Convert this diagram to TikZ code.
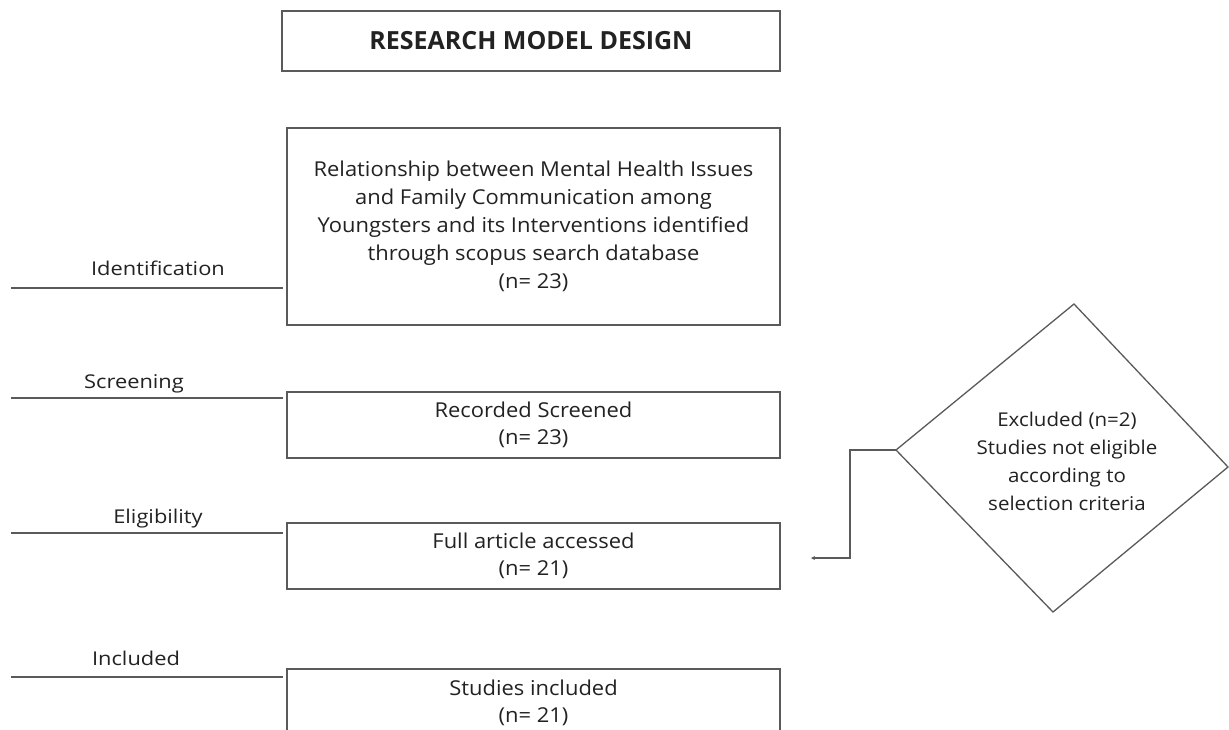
\documentclass[tikz,border=0pt]{standalone}
\usepackage{fontspec}
\usetikzlibrary{arrows.meta}
\setmainfont{Open Sans}
\newfontfamily\widefont[FakeStretch=1.07]{Open Sans}
\newfontfamily\lblfont[FakeStretch=1.15]{Open Sans}
\newfontfamily\dmdfont[FakeStretch=1.08]{Open Sans}
\definecolor{linegray}{HTML}{5A5A5A}
\definecolor{txt}{HTML}{222222}
\begin{document}
\begin{tikzpicture}[x=1pt,y=-1pt,
  box/.style={draw=linegray, line width=1.3pt, rectangle, inner sep=0pt, align=center,
    text=txt, font=\widefont\fontsize{20.5}{28}\selectfont},
  smallbox/.style={box, minimum width=493pt, font=\widefont\fontsize{20.5}{27.5}\selectfont},
  lbl/.style={text=txt, font=\lblfont\fontsize{19}{22}\selectfont, inner sep=0pt},
  rule/.style={draw=linegray, line width=1.3pt},
  conn/.style={draw=linegray, line width=1.3pt, -{Stealth[length=4pt,width=4pt]}}]
\useasboundingbox[fill=white] (0,0) rectangle (1229,729);
% title
\node[box, minimum width=498pt, minimum height=60pt, font=\fontsize{25}{28}\bfseries\selectfont] (title) at (531,41) {RESEARCH MODEL DESIGN};
% main boxes
\node[box, minimum width=493pt, minimum height=197pt] (ident) at (533.5,226.5)
  {Relationship between Mental Health Issues\\and Family Communication among\\Youngsters and its Interventions identified\\through scopus search database\\(n= 23)};
\node[smallbox, minimum height=66pt] (screen) at (533.5,425)
  {Recorded Screened\\(n= 23)};
\node[smallbox, minimum height=66pt] (elig) at (533.5,556)
  {Full article accessed\\(n= 21)};
\node[smallbox, minimum height=68pt] (incl) at (533.5,703)
  {Studies included\\(n= 21)};
% stage labels and rules
\node[lbl] (lid) at (158,268) {Identification};
\coordinate (rid0) at (11,288); \coordinate (rid1) at (283,288);
\draw[rule] (rid0) -- (rid1);
\node[lbl] (lsc) at (134,384) {Screening};
\coordinate (rsc0) at (11,398); \coordinate (rsc1) at (283,398);
\draw[rule] (rsc0) -- (rsc1);
\node[lbl] (lel) at (158,519) {Eligibility};
\coordinate (rel0) at (11,533); \coordinate (rel1) at (283,533);
\draw[rule] (rel0) -- (rel1);
\node[lbl] (lin) at (136,658) {Included};
\coordinate (rin0) at (11,677); \coordinate (rin1) at (283,677);
\draw[rule] (rin0) -- (rin1);
% diamond
\coordinate (dt) at (1074,304);
\coordinate (dl) at (896,450);
\coordinate (dr) at (1228,467);
\coordinate (db) at (1053,612);
\draw[draw=linegray, line width=1.3pt, line join=miter] (dt) -- (dr) -- (db) -- (dl) -- cycle;
\node[align=center, text=txt, font=\dmdfont\fontsize{19}{28}\selectfont, inner sep=0pt] (excl) at (1067,461)
  {Excluded (n=2)\\Studies not eligible\\according to\\selection criteria};
% connector
\coordinate (bend1) at (850,450);
\coordinate (bend2) at (850,558);
\coordinate (tip) at (811,558);
\draw[conn] (dl) -- (bend1) -- (bend2) -- (tip);
\end{tikzpicture}
\end{document}
